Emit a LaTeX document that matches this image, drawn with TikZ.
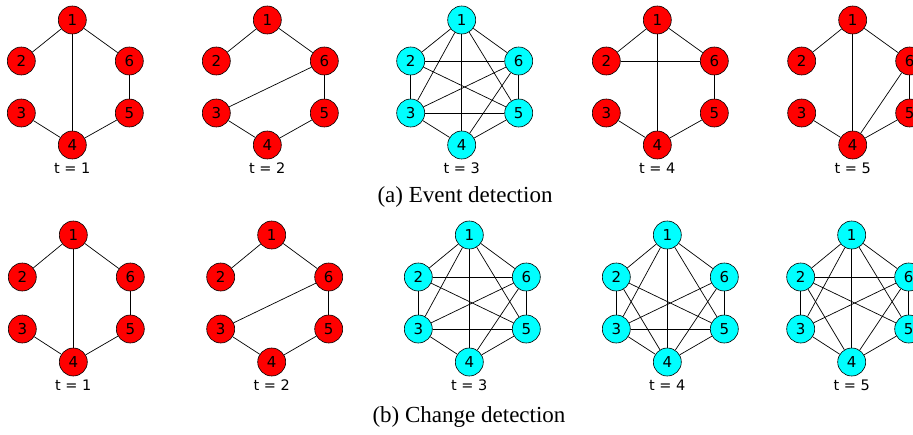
\documentclass[tikz,border=0pt]{standalone}
\usepackage{fontspec}
\usepackage{xcolor}
\setmainfont{Liberation Serif}
\newfontfamily\dejavu{DejaVu Sans}

\definecolor{rojo}{RGB}{255,0,0}
\definecolor{cian}{RGB}{0,255,255}

% Un grafo de 6 vertices: #1 nombre, #2 x, #3 y del vertice 1, #4 color, #5 t, #6 aristas
\newcommand{\grafo}[6]{%
  \node[vertice, fill=#4] (#1-1) at (#2, #3) {1};
  \node[vertice, fill=#4] (#1-2) at (#2-51, #3+\dA) {2};
  \node[vertice, fill=#4] (#1-6) at (#2+57, #3+\dA) {6};
  \node[vertice, fill=#4] (#1-3) at (#2-51, #3+\dB) {3};
  \node[vertice, fill=#4] (#1-5) at (#2+57, #3+\dB) {5};
  \node[vertice, fill=#4] (#1-4) at (#2, #3+\dC) {4};
  \node[etiqueta] (#1-t) at (#2, #3+\dC+23) {t = #5};
  \foreach \u/\v in {#6} {\draw[arista] (#1-\u) -- (#1-\v);}
}

\begin{document}
\begin{tikzpicture}[x=1pt, y=-1pt,
  vertice/.style={circle, draw=black, line width=0.6pt, minimum size=28pt, inner sep=0pt,
    font=\dejavu\fontsize{15}{16}\selectfont},
  arista/.style={black, line width=0.7pt},
  etiqueta/.style={font=\dejavu\fontsize{14.5}{16}\selectfont},
  leyenda/.style={font=\fontsize{23}{26}\selectfont}]

\useasboundingbox (0,0) rectangle (913,434);

% Fila superior: deteccion de eventos
\def\dA{41}
\def\dB{93}
\def\dC{125}
\grafo{a1}{72.3}{20}{rojo}{1}{1/2,1/6,1/4,6/5,5/4,4/3}
\grafo{a2}{267.3}{20}{rojo}{2}{1/2,1/6,6/3,6/5,5/4,3/4}
\grafo{a3}{461.7}{20}{cian}{3}{1/2,1/6,1/3,1/4,1/5,2/6,2/3,2/5,3/6,3/5,3/4,4/6,4/5,5/6}
\grafo{a4}{657.3}{20}{rojo}{4}{1/2,1/6,1/4,2/6,6/5,5/4,3/4}
\grafo{a5}{852.7}{20}{rojo}{5}{1/2,1/6,1/4,6/4,6/5,5/4,3/4}
\node[leyenda] (capa) at (465, 197) {(a) Event detection};

% Fila inferior: deteccion de cambios
\def\dA{42}
\def\dB{94}
\def\dC{127}
\grafo{b1}{73.3}{235}{rojo}{1}{1/2,1/6,1/4,6/5,5/4,4/3}
\grafo{b2}{271.7}{235}{rojo}{2}{1/2,1/6,6/3,6/5,5/4,3/4}
\grafo{b3}{469.3}{235}{cian}{3}{1/2,1/6,1/3,1/4,1/5,2/6,2/3,2/5,3/6,3/5,3/4,4/6,4/5,5/6}
\grafo{b4}{667.3}{235}{cian}{4}{1/2,1/6,1/3,1/4,1/5,2/3,2/5,2/4,3/6,3/5,3/4,4/6,4/5,5/6}
\grafo{b5}{851.7}{235}{cian}{5}{1/2,1/6,1/3,1/4,1/5,2/6,2/3,2/5,2/4,3/6,3/4,4/6,4/5,5/6}
\node[leyenda] (capb) at (469, 417) {(b) Change detection};

\end{tikzpicture}
\end{document}
